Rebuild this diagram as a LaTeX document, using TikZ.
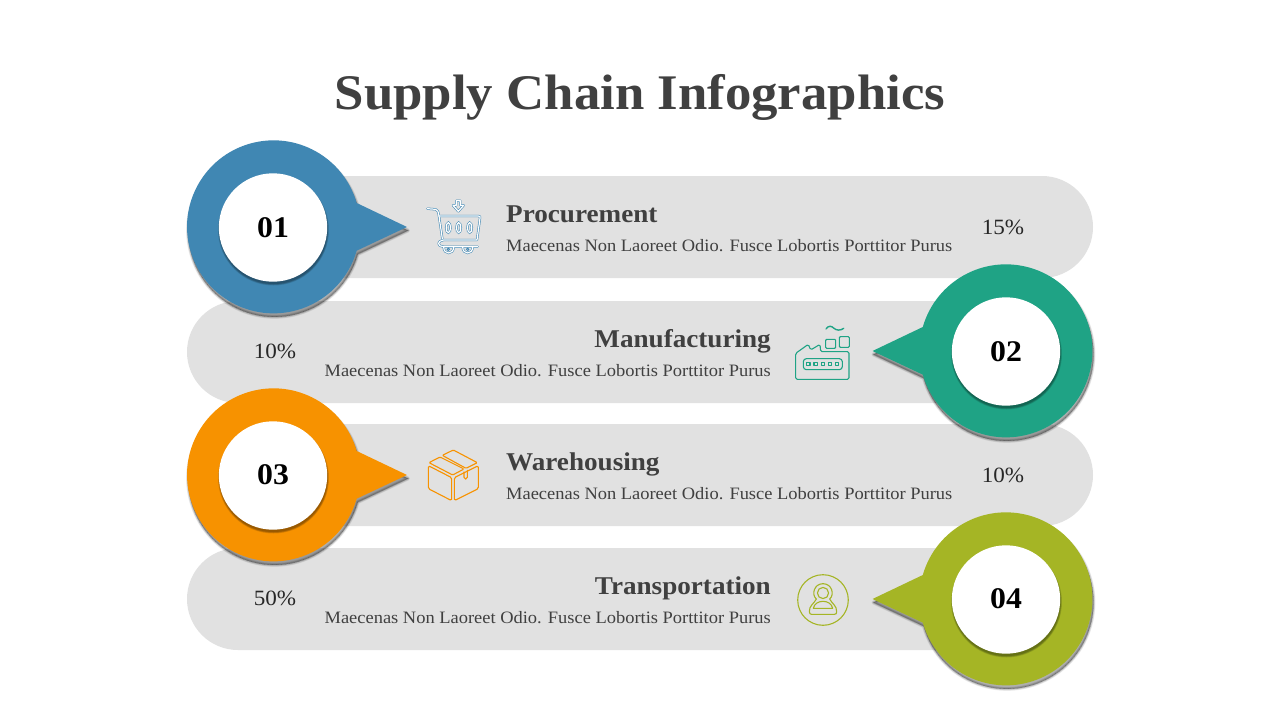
\documentclass[tikz,border=0pt]{standalone}
\usepackage{fontspec}
\setmainfont{Liberation Serif}
\newfontfamily\wideserif[FakeStretch=1.06]{Liberation Serif}
\definecolor{cblue}{HTML}{4087B3}
\definecolor{cgreen}{HTML}{1FA385}
\definecolor{corange}{HTML}{F79200}
\definecolor{colive}{HTML}{A5B525}
\definecolor{barfill}{HTML}{E1E1E1}
\definecolor{inkgrey}{HTML}{404040}
\tikzset{
  barshape/.style={fill=barfill,rounded corners=51pt},
  titletext/.style={inner sep=0,text=inkgrey,font=\wideserif\bfseries\fontsize{49.8}{50}\selectfont},
  headtext/.style={inner sep=0,text=inkgrey,font=\wideserif\bfseries\fontsize{25.6}{26}\selectfont},
  desctext/.style={inner sep=0,text=inkgrey,font=\wideserif\fontsize{17.4}{18}\selectfont},
  pcttext/.style={inner sep=0,text=inkgrey!60!black,font=\wideserif\fontsize{21.8}{22}\selectfont},
  numtext/.style={inner sep=0,text=black,font=\wideserif\bfseries\fontsize{30}{30}\selectfont},
  iconline/.style={line width=1.1pt,line join=round,line cap=round},
}
\newcommand{\calloutshape}[4]{% cx cy dir options
  \begin{scope}[shift={(#1,#2)},x=1pt,y=1pt,xscale=#3]
    \path[#4] (133.5,0) -- (83.2,24) arc[start angle=16,end angle=344,radius=86.5pt] -- cycle;
  \end{scope}}
\newcommand{\softshadow}[3]{% cx cy dir
  \foreach \w in {4,3.2,2.4,1.6,.8,0}{
    \calloutshape{#1+1}{#2+3.5}{#3}{fill=black,draw=black,line width=\w pt,opacity=.06,line join=round}
  }}
\newcommand{\innerdisc}[2]{% cx cy
  \foreach \r in {55.5,55,54.5,54}{
    \fill[black,opacity=.11] (#1+.5,#2+2.5) circle[radius=\r pt];
  }
  \fill[white] (#1,#2) circle[radius=54.2pt];}
\begin{document}
\begin{tikzpicture}[x=1pt,y=-1pt]
\useasboundingbox (0,0) rectangle (1280,720);
\fill[white] (0,0) rectangle (1280,720);
\node[titletext] (title) at (640,97) {Supply Chain Infographics};

% bars
\fill[barshape] (240,176) rectangle (1093,278);
\fill[barshape] (187,301) rectangle (1040,403);
\fill[barshape] (240,424) rectangle (1093,526);
\fill[barshape] (187,548) rectangle (1040,650);

% callouts
\softshadow{273.5}{227}{1}
\calloutshape{273.5}{227}{1}{fill=cblue}
\innerdisc{273}{227.5}
\softshadow{1006}{351}{-1}
\calloutshape{1006}{351}{-1}{fill=cgreen}
\innerdisc{1006}{351.5}
\softshadow{273.5}{475}{1}
\calloutshape{273.5}{475}{1}{fill=corange}
\innerdisc{273}{475.5}
\softshadow{1006}{599}{-1}
\calloutshape{1006}{599}{-1}{fill=colive}
\innerdisc{1006}{599.5}
\node[numtext] (n1) at (273,228) {01};
\node[numtext] (n2) at (1006,352) {02};
\node[numtext] (n3) at (273,475) {03};
\node[numtext] (n4) at (1006,599) {04};

% texts
\node[headtext,anchor=base west] (h1) at (506,222) {Procurement};
\node[desctext,anchor=base west] (d1) at (506,251) {Maecenas Non Laoreet Odio. Fusce Lobortis Porttitor Purus};
\node[pcttext] (p1) at (1003,227) {15\%};
\node[headtext,anchor=base east] (h2) at (771,347) {Manufacturing};
\node[desctext,anchor=base east] (d2) at (771,376) {Maecenas Non Laoreet Odio. Fusce Lobortis Porttitor Purus};
\node[pcttext] (p2) at (275,351) {10\%};
\node[headtext,anchor=base west] (h3) at (506,470) {Warehousing};
\node[desctext,anchor=base west] (d3) at (506,499) {Maecenas Non Laoreet Odio. Fusce Lobortis Porttitor Purus};
\node[pcttext] (p3) at (1003,475) {10\%};
\node[headtext,anchor=base east] (h4) at (771,594) {Transportation};
\node[desctext,anchor=base east] (d4) at (771,623) {Maecenas Non Laoreet Odio. Fusce Lobortis Porttitor Purus};
\node[pcttext] (p4) at (275,598) {50\%};

% cart icon
\begin{scope}[shift={(415,190)},x=.3333pt,y=-.3333pt]
  \foreach \c/\w in {cblue/2.3,white/1.2}{
    \draw[\c,line width=\w pt,line cap=round,line join=round]
      (37,56) -- (62,58) .. controls (68,60) and (70,66) .. (71,72) -- (82,146);
    \draw[\c,line width=\w pt,line join=round,line cap=round]
      (72,78) -- (190,78) .. controls (195,78) and (196,80) .. (195,85) -- (186,150) -- (85,150)
      .. controls (66,152) and (66,170) .. (85,170) -- (188,170);
    \draw[\c,line width=\w pt,line cap=round,line join=round]
      (124,32) -- (136,32) -- (136,46) -- (146,46) -- (130,64) -- (114,46) -- (124,46) -- cycle;
    \draw[\c,line width=\w pt] (86,171) .. controls (86,195) and (116,195) .. (116,171);
    \draw[\c,line width=\w pt] (143,171) .. controls (143,195) and (173,195) .. (173,171);
    \foreach \ox in {100,131,164}{
      \draw[\c,line width=\w pt] (\ox,113) ellipse[x radius=2.2pt,y radius=5pt];
    }
  }
  \draw[cblue,line width=.8pt] (100,178) circle[radius=1.2pt];
  \draw[cblue,line width=.8pt] (158,178) circle[radius=1.2pt];
\end{scope}

% factory icon
\begin{scope}[shift={(780,315)},x=.3333pt,y=-.3333pt]
  \begin{scope}[cgreen,iconline]
  \draw[rounded corners=1.5pt] (47,115) -- (85,88) -- (92,105) -- (120,88) -- (122,110) -- (207,110) -- (207,193) -- (47,193) -- cycle;
  \draw[rounded corners=3pt] (70,131) rectangle (187,164);
  \foreach \ox in {85,107,129,150,171}{
    \draw (\ox-5,143) rectangle (\ox+5,152);
  }
  \draw[rounded corners=1pt] (137,73) rectangle (167,100);
  \draw[rounded corners=1pt] (178,65) rectangle (208,97);
  \draw[line width=1.4pt] (138,42) .. controls (146,30) and (155,33) .. (162,40) .. controls (170,47) and (182,47) .. (191,40);
  \end{scope}
\end{scope}

% box icon
\begin{scope}[shift={(415,440)},x=.3333pt,y=-.3333pt]
  \begin{scope}[corange,iconline]
  \draw[rounded corners=1.5pt] (40,77) -- (110,113) -- (110,182) -- (40,146) -- cycle;
  \draw[rounded corners=1.5pt] (118,113) -- (190,77) -- (190,146) -- (118,182) -- cycle;
  \draw[rounded corners=1pt] (42,68) -- (75,51) -- (147,87) -- (113,105) -- cycle;
  \draw[rounded corners=1pt] (82,46) -- (115,30) -- (187,68) -- (153,85) -- cycle;
  \draw (147,96) -- (147,112) .. controls (148,119) and (156,119) .. (157,112) -- (157,91);
  \end{scope}
\end{scope}

% person icon
\begin{scope}[shift={(785,565)},x=.3333pt,y=-.3333pt]
  \begin{scope}[colive,iconline]
  \draw (114,105) circle[radius=25.3pt];
  \draw (114,84) circle[radius=5.6pt];
  \draw (114,56) .. controls (88,56) and (78,88) .. (94,102)
        .. controls (88,115) and (72,122) .. (73,140)
        .. controls (73,146) and (76,148) .. (80,148) -- (148,148)
        .. controls (153,148) and (155,146) .. (155,140)
        .. controls (156,122) and (140,115) .. (134,102)
        .. controls (150,88) and (140,56) .. (114,56) -- cycle;
  \draw (85,130) .. controls (90,102) and (138,102) .. (143,130) -- cycle;
  \end{scope}
\end{scope}
\end{tikzpicture}
\end{document}
